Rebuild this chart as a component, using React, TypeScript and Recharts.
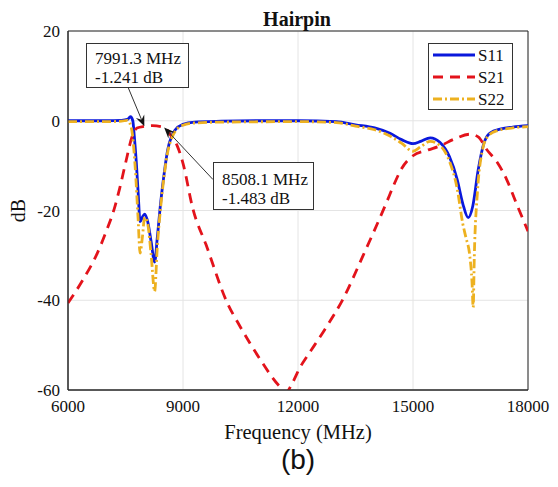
import React from 'react'
import {
  LineChart,
  Line,
  XAxis,
  YAxis,
  CartesianGrid,
  ReferenceLine,
  ReferenceArea,
} from 'recharts'

// frequency (MHz) / magnitude (dB)
const S11_FREQ = [
  6000, 7000, 7400, 7550, 7630, 7690, 7730, 7780, 7830, 7880, 7940, 8000, 8080, 8170,
  8260, 8330, 8420, 8520, 8600, 8700, 8800, 9000, 9300, 10000, 11000, 12000, 13000,
  13500, 14000, 14400, 14700, 15000, 15200, 15450, 15700, 15950, 16150, 16300, 16440,
  16560, 16700, 16850, 17000, 17300, 17600, 18000,
]
const S11_DB = [
  0, 0, 0.1, 0.3, 0.9, 0, -3.5, -9, -16, -22.5, -21.5, -20.8, -22.5, -27,
  -31.5, -26, -18, -11, -6.5, -3.5, -2, -0.8, -0.3, -0.1, 0, 0, -0.2,
  -0.9, -1.6, -2.8, -4.2, -5.1, -4.6, -3.8, -4.8, -8, -13, -18.5, -21.6,
  -19, -11, -5, -2.8, -1.8, -1.4, -1.1,
]

const S21_FREQ = [
  6000, 6400, 6765, 7000, 7200, 7350, 7505, 7678, 7800, 7991.3, 8200, 8508.1, 8700,
  8850, 9000, 9260, 9600, 10150, 10500, 11000, 11500, 11690, 11850, 12050, 12230,
  12700, 13170, 13700, 14310, 14500, 14700, 15000, 15400, 15705, 16100, 16487, 16700,
  16922, 17200, 17444, 17700, 18000,
]
const S21_DB = [
  -40.6, -35.3, -29.5, -24.6, -19.8, -15, -9.3, -3.4, -1.6, -1.241, -1.1, -1.483, -3.5,
  -5.6, -9.5, -19.7, -27.6, -40.5, -46, -53, -59, -60.5, -58.5, -55, -52.6,
  -46.5, -39.8, -30, -18.2, -14.3, -10.7, -7.8, -6.5, -5.6, -4, -3, -3.6,
  -6.4, -9.3, -13.1, -18.5, -24.6,
]

const S22_FREQ = [
  6000, 7000, 7400, 7550, 7610, 7680, 7750, 7830, 7880, 7940, 8000, 8080, 8170, 8260,
  8330, 8420, 8520, 8600, 8700, 8800, 9000, 9300, 10000, 12000, 13000, 13500, 14000,
  14400, 14700, 15000, 15200, 15450, 15700, 15950, 16150, 16300, 16380, 16480, 16540,
  16570, 16600, 16680, 16800, 16950, 17200, 17600, 18000,
]
const S22_DB = [
  -0.2, -0.2, -0.1, 0.1, -0.5, -3, -10, -22, -29.5, -26, -21.5, -23, -30, -38,
  -28, -19, -11.5, -7, -4, -2.3, -1, -0.5, -0.3, -0.2, -0.4, -1.2, -2,
  -3.4, -5, -6.8, -5.8, -4.6, -5.5, -9, -15, -23, -26, -30, -36,
  -41.6, -30, -16, -7, -3.5, -2.2, -1.6, -1.3,
]

const X_TICKS = [6000, 9000, 12000, 15000, 18000]
const Y_TICKS = [-60, -40, -20, 0, 20]

const MARKERS = [
  { f: 7991.3, db: -1.241, tailF: 7565, tailDb: 7.5, lines: ['7991.3 MHz', '-1.241 dB'] },
  { f: 8508.1, db: -1.483, tailF: 9783, tailDb: -13.1, lines: ['8508.1 MHz', '-1.483 dB'] },
]

const SERIES = [
  { name: 'S11', freq: S11_FREQ, db: S11_DB, color: '#0a18dc', dash: undefined },
  { name: 'S21', freq: S21_FREQ, db: S21_DB, color: '#e3131b', dash: '10 7' },
  { name: 'S22', freq: S22_FREQ, db: S22_DB, color: '#edb120', dash: '9 3 2 3' },
]

const serif = '"Liberation Serif", Tinos, "Times New Roman", Times, "DejaVu Serif", serif'

const toPoints = (freq: number[], db: number[]) => freq.map((f, i) => ({ f, v: db[i] }))

function Arrow(props: any) {
  const { x1, y1, x2, y2 } = props
  const dx = x2 - x1
  const dy = y2 - y1
  const len = Math.hypot(dx, dy) || 1
  const ux = dx / len
  const uy = dy / len
  const hl = 11
  const hw = 4.5
  const bx = x2 - ux * hl
  const by = y2 - uy * hl
  const nx = x2 - ux * hl * 0.65
  const ny = y2 - uy * hl * 0.65
  const pts = `${x2},${y2} ${bx - uy * hw},${by + ux * hw} ${nx},${ny} ${bx + uy * hw},${by - ux * hw}`
  return (
    <g>
      <line x1={x1} y1={y1} x2={nx} y2={ny} stroke="#333" strokeWidth={1} />
      <polygon points={pts} fill="#111" />
    </g>
  )
}

const boxStyle: React.CSSProperties = {
  position: 'absolute',
  background: '#fff',
  border: '1px solid #333',
  fontFamily: serif,
  fontSize: 17,
  lineHeight: '19px',
  color: '#111',
  boxSizing: 'border-box',
  whiteSpace: 'nowrap',
}

const boxPos = [
  { left: 86, top: 43, width: 103, height: 45, padding: '5px 0 0 8px' },
  { left: 213, top: 162, width: 101, height: 48, padding: '7px 0 0 8px' },
]

export default function App() {
  return (
    <div style={{ position: 'relative', width: 558, height: 487, background: '#fff' }}>
      <style>{'body{margin:0}'}</style>
      <LineChart
        width={558}
        height={487}
        margin={{ top: 31, right: 30, bottom: 42, left: 0 }}
      >
        <CartesianGrid stroke="#e4e4e4" strokeWidth={1} />
        <XAxis
          dataKey="f"
          type="number"
          domain={[6000, 18000]}
          ticks={X_TICKS}
          allowDataOverflow
          height={55}
          tickLine={false}
          tickSize={8}
          tickMargin={2}
          axisLine={{ stroke: '#262626' }}
          tick={{ fill: '#111', fontSize: 17, fontFamily: serif }}
          label={{
            value: 'Frequency (MHz)',
            position: 'insideBottom',
            offset: 6,
            style: { fill: '#111', fontSize: 20.5, fontFamily: serif },
          }}
        />
        <YAxis
          type="number"
          domain={[-60, 20]}
          ticks={Y_TICKS}
          allowDataOverflow
          width={68}
          tickLine={false}
          tickSize={6}
          tickMargin={2}
          axisLine={{ stroke: '#262626' }}
          tick={{ fill: '#111', fontSize: 17, fontFamily: serif }}
          label={{
            value: 'dB',
            angle: -90,
            position: 'insideLeft',
            offset: 18,
            style: { fill: '#111', fontSize: 20, fontFamily: serif, textAnchor: 'middle' },
          }}
        />
        <ReferenceArea
          x1={6000}
          x2={18000}
          y1={-60}
          y2={20}
          fill="none"
          stroke="#262626"
          strokeWidth={1}
          ifOverflow="visible"
        />
        {SERIES.map((s) => (
          <Line
            key={s.name}
            data={toPoints(s.freq, s.db)}
            dataKey="v"
            name={s.name}
            type="monotone"
            stroke={s.color}
            strokeWidth={2.8}
            strokeDasharray={s.dash}
            dot={false}
            activeDot={false}
            isAnimationActive={false}
          />
        ))}
        {MARKERS.map((m) => (
          <ReferenceLine
            key={m.f}
            segment={[
              { x: m.tailF, y: m.tailDb },
              { x: m.f, y: m.db },
            ]}
            ifOverflow="visible"
            shape={Arrow}
          />
        ))}
      </LineChart>

      <div
        style={{
          position: 'absolute',
          left: 0,
          width: 594,
          top: 8,
          textAlign: 'center',
          fontFamily: serif,
          fontWeight: 'bold',
          fontSize: 20,
          color: '#111',
        }}
      >
        Hairpin
      </div>

      {MARKERS.map((m, i) => (
        <div key={m.f} style={{ ...boxStyle, ...boxPos[i] }}>
          {m.lines.map((t) => (
            <div key={t}>{t}</div>
          ))}
        </div>
      ))}

      <div
        style={{
          position: 'absolute',
          left: 428,
          top: 43,
          width: 85,
          height: 67,
          background: '#fff',
          border: '1px solid #333',
          boxSizing: 'border-box',
        }}
      >
        <svg width={83} height={65} style={{ position: 'absolute', left: 0, top: 0 }}>
          {SERIES.map((s, i) => (
            <g key={s.name}>
              <line
                x1={4}
                x2={46}
                y1={11 + i * 22}
                y2={11 + i * 22}
                stroke={s.color}
                strokeWidth={2.8}
                strokeDasharray={s.dash}
              />
              <text
                x={49}
                y={11 + i * 22}
                dy="0.35em"
                fontFamily={serif}
                fontSize={17}
                fill="#111"
              >
                {s.name}
              </text>
            </g>
          ))}
        </svg>
      </div>

      <div
        style={{
          position: 'absolute',
          left: 0,
          width: 596,
          top: 444,
          textAlign: 'center',
          fontFamily: '"Liberation Sans", Arial, sans-serif',
          fontSize: 28,
          color: '#111',
        }}
      >
        (b)
      </div>
    </div>
  )
}
